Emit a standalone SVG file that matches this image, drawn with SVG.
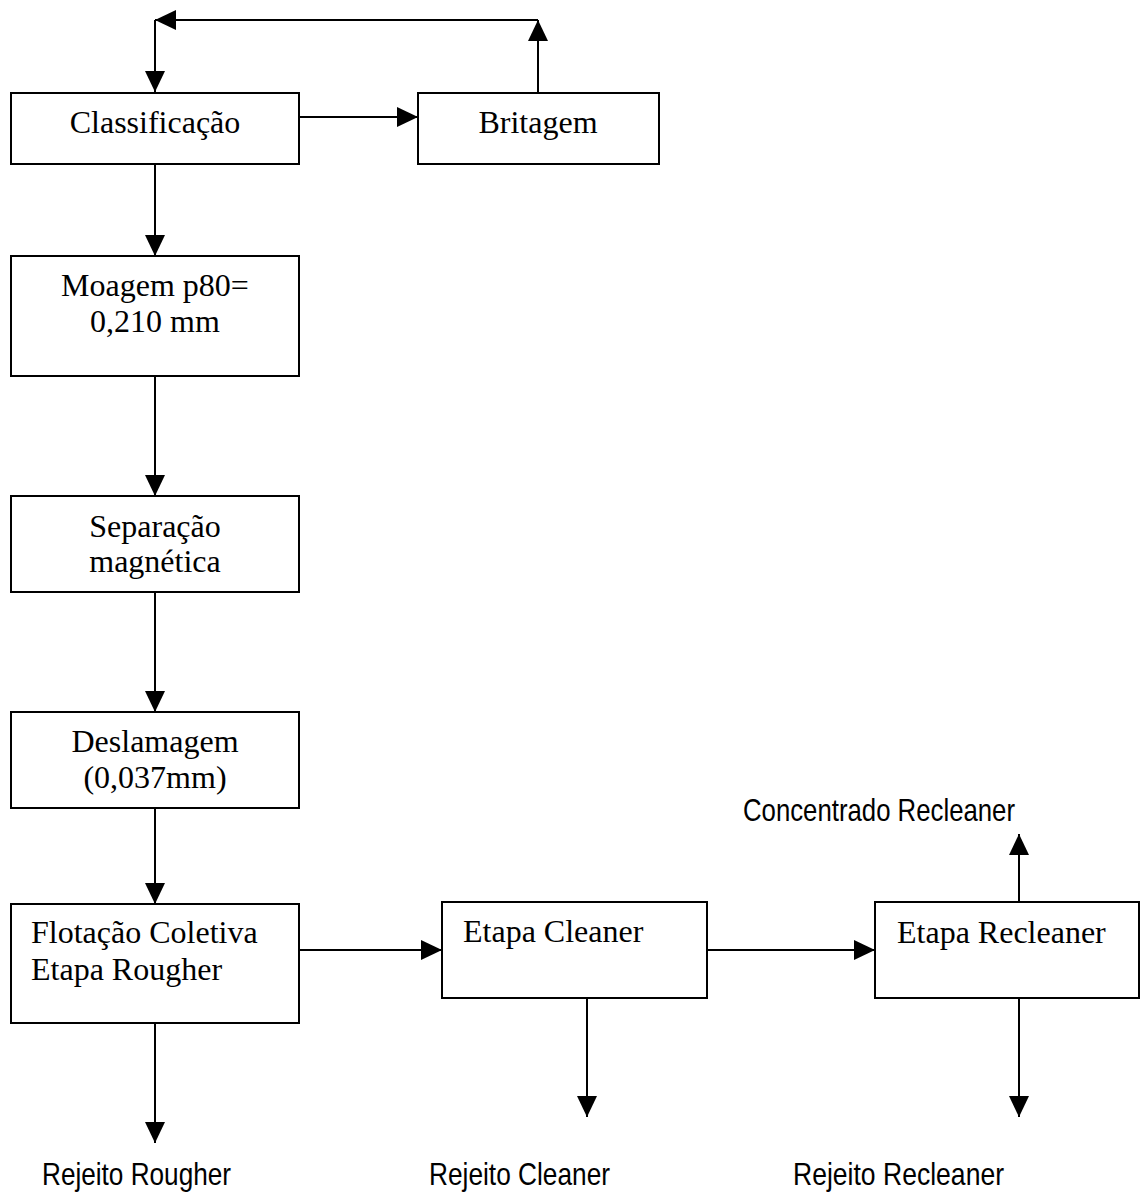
<svg xmlns="http://www.w3.org/2000/svg" width="1141" height="1194" viewBox="0 0 1141 1194">
<defs>
<marker id="ah" markerUnits="userSpaceOnUse" markerWidth="21" markerHeight="20" refX="21" refY="10" orient="auto">
<path d="M0,0 L21,10 L0,20 z" fill="#000"/>
</marker>
<style>
.box{fill:#fff;stroke:#000;stroke-width:2}
.t{font-family:"Liberation Serif","Times New Roman",serif;font-size:32px;fill:#000}
.c{text-anchor:middle}
.s{font-family:"Liberation Sans",Arial,sans-serif;font-size:32px;fill:#000}
.e{fill:none;stroke:#000;stroke-width:2;marker-end:url(#ah)}
</style>
</defs>
<rect width="1141" height="1194" fill="#fff"/>
<g id="connectors">
<line class="e" x1="299" y1="117" x2="418" y2="117"/>
<line class="e" x1="538" y1="92" x2="538" y2="20"/>
<line class="e" x1="538" y1="20" x2="155" y2="20"/>
<line class="e" x1="155" y1="20" x2="155" y2="92"/>
<line class="e" x1="155" y1="164" x2="155" y2="256"/>
<line class="e" x1="155" y1="376" x2="155" y2="496"/>
<line class="e" x1="155" y1="592" x2="155" y2="712"/>
<line class="e" x1="155" y1="808" x2="155" y2="904"/>
<line class="e" x1="299" y1="950" x2="442" y2="950"/>
<line class="e" x1="707" y1="950" x2="875" y2="950"/>
<line class="e" x1="155" y1="1023" x2="155" y2="1143"/>
<line class="e" x1="587" y1="998" x2="587" y2="1117"/>
<line class="e" x1="1019" y1="902" x2="1019" y2="834"/>
<line class="e" x1="1019" y1="998" x2="1019" y2="1117"/>
</g>
<g id="classificacao">
<rect class="box" x="11" y="93" width="288" height="71"/>
<text class="t c" x="155" y="133">Classificação</text>
</g>
<g id="britagem">
<rect class="box" x="418" y="93" width="241" height="71"/>
<text class="t c" x="538" y="133">Britagem</text>
</g>
<g id="moagem">
<rect class="box" x="11" y="256" width="288" height="120"/>
<text class="t c" x="155" y="296">Moagem p80=</text>
<text class="t c" x="155" y="332">0,210 mm</text>
</g>
<g id="separacao">
<rect class="box" x="11" y="496" width="288" height="96"/>
<text class="t c" x="155" y="537">Separação</text>
<text class="t c" x="155" y="572">magnética</text>
</g>
<g id="deslamagem">
<rect class="box" x="11" y="712" width="288" height="96"/>
<text class="t c" x="155" y="752">Deslamagem</text>
<text class="t c" x="155" y="788">(0,037mm)</text>
</g>
<g id="flotacao">
<rect class="box" x="11" y="904" width="288" height="119"/>
<text class="t" x="31" y="943">Flotação Coletiva</text>
<text class="t" x="31" y="980">Etapa Rougher</text>
</g>
<g id="cleaner">
<rect class="box" x="442" y="902" width="265" height="96"/>
<text class="t" x="463" y="942">Etapa Cleaner</text>
</g>
<g id="recleaner">
<rect class="box" x="875" y="902" width="264" height="96"/>
<text class="t" x="897" y="943">Etapa Recleaner</text>
</g>
<g id="labels">
<text class="s" x="743" y="821" textLength="272" lengthAdjust="spacingAndGlyphs">Concentrado Recleaner</text>
<text class="s" x="42" y="1185" textLength="189" lengthAdjust="spacingAndGlyphs">Rejeito Rougher</text>
<text class="s" x="429" y="1185" textLength="181" lengthAdjust="spacingAndGlyphs">Rejeito Cleaner</text>
<text class="s" x="793" y="1185" textLength="211" lengthAdjust="spacingAndGlyphs">Rejeito Recleaner</text>
</g>
</svg>
